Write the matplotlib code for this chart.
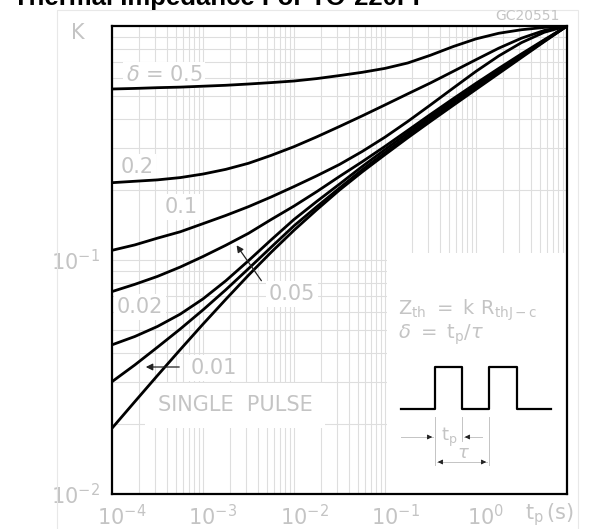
import numpy as np
import matplotlib
matplotlib.use("Agg")
import matplotlib.pyplot as plt
import matplotlib.ticker as mticker
from matplotlib.transforms import Affine2D, ScaledTranslation
from matplotlib.patches import Rectangle

# pulse duration (s) and normalised thermal impedance K for each duty cycle
t_s = [1.0e-4, 1.78e-4, 3.16e-4, 5.62e-4, 1.0e-3, 1.78e-3, 3.16e-3, 5.62e-3,
       1.0e-2, 1.78e-2, 3.16e-2, 5.62e-2, 0.1, 0.178, 0.316, 0.562,
       1.0, 1.78, 3.16, 5.62, 10.0]
k_d05 = [0.538, 0.541, 0.545, 0.548, 0.553, 0.558, 0.565, 0.573, 0.582, 0.596, 0.614,
         0.634, 0.659, 0.695, 0.750, 0.817, 0.881, 0.931, 0.964, 0.986, 1.0]
k_d02 = [0.214, 0.217, 0.220, 0.225, 0.233, 0.244, 0.259, 0.280, 0.305, 0.336, 0.372,
         0.413, 0.460, 0.513, 0.571, 0.640, 0.718, 0.804, 0.887, 0.957, 1.0]
k_d01 = [0.110, 0.116, 0.124, 0.132, 0.143, 0.155, 0.169, 0.186, 0.206, 0.229, 0.256,
         0.291, 0.335, 0.391, 0.460, 0.543, 0.640, 0.745, 0.849, 0.940, 1.0]
k_d005 = [0.0733, 0.0787, 0.0851, 0.0933, 0.1035, 0.1156, 0.130, 0.149, 0.170, 0.196, 0.2275,
          0.263, 0.306, 0.358, 0.419, 0.489, 0.569, 0.659, 0.760, 0.873, 1.0]
k_d002 = [0.0434, 0.0471, 0.0520, 0.0587, 0.0682, 0.0815, 0.0993, 0.122, 0.149, 0.178, 0.211,
          0.251, 0.2965, 0.349, 0.409, 0.479, 0.558, 0.649, 0.752, 0.867, 1.0]
k_d001 = [0.0302, 0.0356, 0.0424, 0.0507, 0.0612, 0.0746, 0.0918, 0.1135, 0.140, 0.169, 0.203,
          0.243, 0.288, 0.340, 0.400, 0.468, 0.546, 0.635, 0.740, 0.861, 1.0]
k_single = [0.0191, 0.0248, 0.0321, 0.0414, 0.0532, 0.0679, 0.0861, 0.108, 0.134, 0.164, 0.199,
            0.238, 0.282, 0.333, 0.391, 0.458, 0.536, 0.627, 0.733, 0.857, 1.0]

x_ticks = [1e-4, 1e-3, 1e-2, 1e-1, 1]
x_tick_labels = [r"$10^{-4}$", r"$10^{-3}$", r"$10^{-2}$", r"$10^{-1}$", r"$10^{0}$"]
y_ticks = [0.01, 0.1]
y_tick_labels = [r"$10^{-2}$", r"$10^{-1}$"]

W, H = 595, 529
GREY = "#c4c4c4"
GRID = "#dedede"

fig = plt.figure(figsize=(W / 100, H / 100), dpi=100)
# pixel coordinates (origin top-left) for the drawing annotations
px = Affine2D().scale(1 / W, -1 / H).translate(0, 1) + fig.transFigure

ax = fig.add_axes([112 / W, 35 / H, 455 / W, 468 / H])
ax.set_xscale("log")
ax.set_yscale("log")
ax.set_xlim(1e-4, 10)
ax.set_ylim(0.01, 1)
ax.set_axisbelow(True)
for axis in (ax.xaxis, ax.yaxis):
    axis.set_minor_locator(mticker.LogLocator(base=10, subs=np.arange(2, 10), numticks=20))
    axis.set_minor_formatter(mticker.NullFormatter())
ax.grid(which="both", color=GRID, lw=0.8)
ax.set_xticks(x_ticks, x_tick_labels)
ax.set_yticks(y_ticks, y_tick_labels)
ax.tick_params(which="both", length=0, colors=GREY, labelsize=15)
ax.tick_params(axis="x", pad=7)
ax.tick_params(axis="y", pad=9)
for lbl in ax.get_xticklabels():
    lbl.set_transform(lbl.get_transform() + ScaledTranslation(0.1, 0, fig.dpi_scale_trans))
for sp in ax.spines.values():
    sp.set_linewidth(1.6)

# blank area for the formula / pulse sketch
ax.add_patch(Rectangle((0.104, 0.01), 10, 0.0975, facecolor="white", edgecolor="none", zorder=1))

for k in [k_d05, k_d02, k_d01, k_d005, k_d002, k_d001, k_single]:
    ax.plot(t_s, k, color="black", lw=2.0, zorder=3, solid_joinstyle="round")

box = dict(facecolor="white", edgecolor="none", pad=2)
lab = dict(transform=px, color=GREY, fontsize=15, ha="center", va="center", zorder=2.5)
ax.text(164, 75, r"$\delta$ = 0.5", bbox=box, **lab)
ax.text(137, 167, "0.2", bbox=box, **lab)
ax.text(181, 207, "0.1", bbox=box, **lab)
ax.text(292, 294, "0.05", bbox=box, **lab)
ax.text(140, 307, "0.02", bbox=box, **lab)
ax.text(214, 368, "0.01", bbox=box, **lab)
ax.text(235, 405, "SINGLE  PULSE", bbox=dict(facecolor="white", edgecolor="none", pad=9), **lab)

arr = dict(arrowstyle="-|>", color="#222222", lw=0.9, mutation_scale=10)
ax.annotate("", xy=(235, 243), xytext=(263, 283), xycoords=px, textcoords=px, arrowprops=arr, zorder=4)
ax.annotate("", xy=(143, 367), xytext=(182, 367), xycoords=px, textcoords=px, arrowprops=arr, zorder=4)

# formula and pulse sketch
ax.text(398, 310, r"$\mathregular{Z_{th}\ =\ k\ R_{thJ-c}}$", transform=px, color=GREY,
        fontsize=14, ha="left", va="center", zorder=2.5)
ax.text(398, 335, r"$\delta\ \mathregular{=\ t_p/}\tau$", transform=px, color=GREY,
        fontsize=14, ha="left", va="center", zorder=2.5)
ax.plot([401, 435, 435, 462, 462, 489, 489, 517, 517, 551],
        [409, 409, 367, 367, 409, 409, 367, 367, 409, 409],
        transform=px, color="black", lw=1.6, clip_on=False, zorder=3)
for x0, y1 in [(435, 465), (462, 441), (489, 465)]:
    ax.plot([x0, x0], [417, y1], transform=px, color=GREY, lw=0.7, clip_on=False, zorder=2.5)
ax.plot([401, 433], [437, 437], transform=px, color=GREY, lw=0.7, clip_on=False, zorder=2.5)
ax.plot([464, 482], [437, 437], transform=px, color=GREY, lw=0.7, clip_on=False, zorder=2.5)
ax.plot([437, 487], [462, 462], transform=px, color=GREY, lw=0.7, clip_on=False, zorder=2.5)
small = dict(arrowstyle="-|>", color="#222222", lw=0.6, mutation_scale=7)
for tip, tail in [((435, 437), (426, 437)), ((462, 437), (471, 437)),
                  ((435, 462), (444, 462)), ((489, 462), (480, 462))]:
    ax.annotate("", xy=tip, xytext=tail, xycoords=px, textcoords=px, arrowprops=small, zorder=4)
ax.text(449, 437, r"$\mathregular{t_p}$", transform=px, color=GREY, fontsize=13,
        ha="center", va="center", zorder=2.5)
ax.text(463, 453, r"$\tau$", transform=px, color=GREY, fontsize=13,
        ha="center", va="center", zorder=2.5)

# outer labels
fig.text(550, 515, r"$\mathregular{t_p\,(s)}$", transform=px, color=GREY, fontsize=15,
         ha="center", va="center")
fig.text(78, 33, "K", transform=px, color=GREY, fontsize=15, ha="center", va="center")
fig.text(527, 16, "GC20551", transform=px, color=GREY, fontsize=10, ha="center", va="center")
fig.text(13, 5, "Thermal Impedance For TO-220FP", transform=px, fontsize=18.5,
         family="Liberation Sans", fontweight="bold", ha="left", va="baseline")
fig.add_artist(Rectangle((57, 10), 521, 530, transform=px, fill=False,
                         edgecolor="#e8e8e8", lw=0.8))

fig.savefig("out.png", dpi=100)
